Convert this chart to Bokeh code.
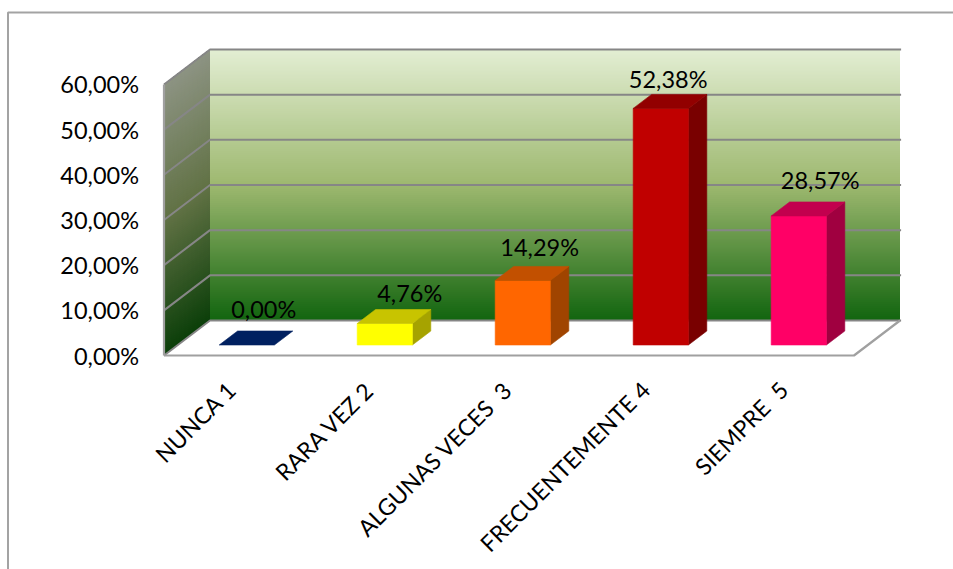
import numpy as np
from bokeh.embed import file_html
from bokeh.resources import INLINE
from bokeh.plotting import figure
from bokeh.models import Range1d, FixedTicker, ColumnDataSource
from bokeh.core.properties import value

categories = ["NUNCA 1", "RARA VEZ 2", "ALGUNAS VECES \u00a03", "FRECUENTEMENTE 4", "SIEMPRE \u00a05"]
values = [0.00, 4.76, 14.29, 52.38, 28.57]
value_labels = ["0,00%", "4,76%", "14,29%", "52,38%", "28,57%"]
y_ticks = [0, 10, 20, 30, 40, 50, 60]
y_tick_labels = ["0,00%", "10,00%", "20,00%", "30,00%", "40,00%", "50,00%", "60,00%"]

front_colors = ["#002060", "#FFFF00", "#FF6600", "#C00000", "#FF0066"]
top_colors = ["#002060", "#C8C400", "#C25000", "#920000", "#C2004E"]
side_colors = ["#002060", "#A6A300", "#A04400", "#790000", "#A00040"]
label_nudge_x = [-1.5, 6.5, -1.5, -11, 3]
label_nudge_y = [-22, -16, -19, -15, -22]

FONT = "Lato"
FONT_SIZE = "23.5px"
GRID = "#868686"
EDGE = "#A0A0A0"

# Projection of the oblique 3D view, in data units
FIG_W, FIG_H = 953, 569
ORG_X, ORG_Y = 163.5, 355
PX_X, PX_Y = 138.0, 4.517
DX, DY = 46 / PX_X, 35 / PX_Y
BAR_W, D0, D1 = 0.4, 0.3, 0.7
TICK_SHIFT = -1.5 / PX_X


def proj(x, v, d):
    return x + d * DX, v + d * DY


p = figure(
    width=FIG_W, height=FIG_H, output_backend="svg", toolbar_location=None,
    x_range=Range1d(-ORG_X / PX_X, (FIG_W - ORG_X) / PX_X),
    y_range=Range1d(-(FIG_H - ORG_Y) / PX_Y, ORG_Y / PX_Y),
    min_border=0,
)
p.outline_line_color = None
p.grid.visible = False
p.background_fill_color = "white"
p.border_fill_color = "white"

# Axes
ya = p.yaxis[0]
ya.fixed_location = -2 / PX_X
ya.ticker = FixedTicker(ticks=y_ticks)
ya.major_label_overrides = {k: s for k, s in zip(y_ticks, y_tick_labels)}
ya.axis_line_color = None
ya.major_tick_line_color = None
ya.minor_tick_line_color = None
ya.major_tick_out = 0
ya.major_tick_in = 0
ya.minor_tick_out = 0
ya.major_label_standoff = 23
ya.major_label_text_font = FONT
ya.major_label_text_font_size = FONT_SIZE
ya.major_label_text_color = "#000000"

xa = p.xaxis[0]
xa.fixed_location = -2 / PX_Y
ticks = [i + 0.5 + TICK_SHIFT for i in range(len(categories))]
xa.ticker = FixedTicker(ticks=ticks)
xa.major_label_overrides = {t: c for t, c in zip(ticks, categories)}
xa.major_label_orientation = np.pi / 4
xa.axis_line_color = None
xa.major_tick_line_color = None
xa.minor_tick_line_color = None
xa.major_tick_out = 0
xa.major_tick_in = 0
xa.minor_tick_out = 0
xa.major_label_standoff = 28
xa.major_label_text_font = FONT
xa.major_label_text_font_size = "23px"
xa.major_label_text_color = "#000000"

# Chart frame (top and left edges of the chart area)
fx = (7.5 - ORG_X) / PX_X
fy = (ORG_Y - 12) / PX_Y
p.line([fx, fx, (FIG_W - ORG_X) / PX_X], [-(FIG_H - ORG_Y) / PX_Y, fy, fy],
       line_color="#A3A3A3", line_width=2)


# Wall gradient
def wall_rgb(t):
    stops = np.array([[0x12, 0x65, 0x0F], [0x9D, 0xB8, 0x6F], [0xE3, 0xEE, 0xD3]], float)
    return np.array([np.interp(t, [0, .5, 1], stops[:, k]) for k in range(3)])


def hexc(c):
    return "#%02x%02x%02x" % tuple(int(round(x)) for x in c)


top = y_ticks[-1]
edges = np.linspace(0, top, 137)
wx, wy, wc, sx, sy, sc = [], [], [], [], [], []
n = len(categories)
for a, b in zip(edges[:-1], edges[1:]):
    c = wall_rgb((a + b) / 2 / top)
    x0, ya0 = proj(0, a, 1)
    x1, yt = proj(n, top, 1)
    wx.append([x0, x1, x1, x0])
    wy.append([ya0, ya0, yt, yt])
    wc.append(hexc(c))
    f0, fa = proj(0, a, 0)
    f1, ft = proj(0, top, 0)
    sx.append([f0, x0, x0, f0])
    sy.append([fa, ya0, yt, ft])
    sc.append(hexc(c * 0.62))
p.patches(wx, wy, fill_color=wc, line_color=None)
p.patches(sx, sy, fill_color=sc, line_color=None)

# Gridlines
gx, gy = [], []
for v in y_ticks:
    a = proj(0, v, 0)
    b = proj(0, v, 1)
    c = proj(n, v, 1)
    gx.append([a[0], b[0], c[0] + 0.008])
    gy.append([a[1], b[1], c[1]])
p.multi_line(gx, gy, line_color=GRID, line_width=2)

# Floor and front edges
e0, e1, e2 = proj(0, 0, 0), proj(n, 0, 0), proj(n, 0, 1)
p.line([e0[0], e1[0], e2[0]], [e0[1], e1[1], e2[1]], line_color=EDGE, line_width=2.2)
f = proj(0, top, 0)
p.line([e0[0], f[0]], [e0[1], f[1]], line_color=EDGE, line_width=2.2)

# Bars
for i, v in enumerate(values):
    x0 = i + 0.5 - BAR_W / 2
    x1 = x0 + BAR_W
    a = proj(x0, 0, D0)
    b = proj(x1, 0, D0)
    c = proj(x1, v, D0)
    d = proj(x0, v, D0)
    e = proj(x0, v, D1)
    g = proj(x1, v, D1)
    h = proj(x1, 0, D1)
    if v > 0:
        p.patch([b[0], h[0], g[0], c[0]], [b[1], h[1], g[1], c[1]],
                fill_color=side_colors[i], line_color=side_colors[i], line_width=0.6)
        p.patch([a[0], b[0], c[0], d[0]], [a[1], b[1], c[1], d[1]],
                fill_color=front_colors[i], line_color=front_colors[i], line_width=0.6)
    p.patch([d[0], c[0], g[0], e[0]], [d[1], c[1], g[1], e[1]],
            fill_color=top_colors[i], line_color=top_colors[i], line_width=0.6)

# Data labels
lx, ly = zip(*[proj(i + 0.5, v, D1) for i, v in enumerate(values)])
src = ColumnDataSource(dict(x=list(lx), y=list(ly), t=value_labels,
                            dx=label_nudge_x, dy=label_nudge_y))
p.text("x", "y", text="t", source=src, x_offset="dx", y_offset="dy",
       text_align="center", text_baseline="middle", text_color="#000000",
       text_font=value(FONT), text_font_size=value(FONT_SIZE))

open("out.html", "w").write(file_html(p, INLINE))
